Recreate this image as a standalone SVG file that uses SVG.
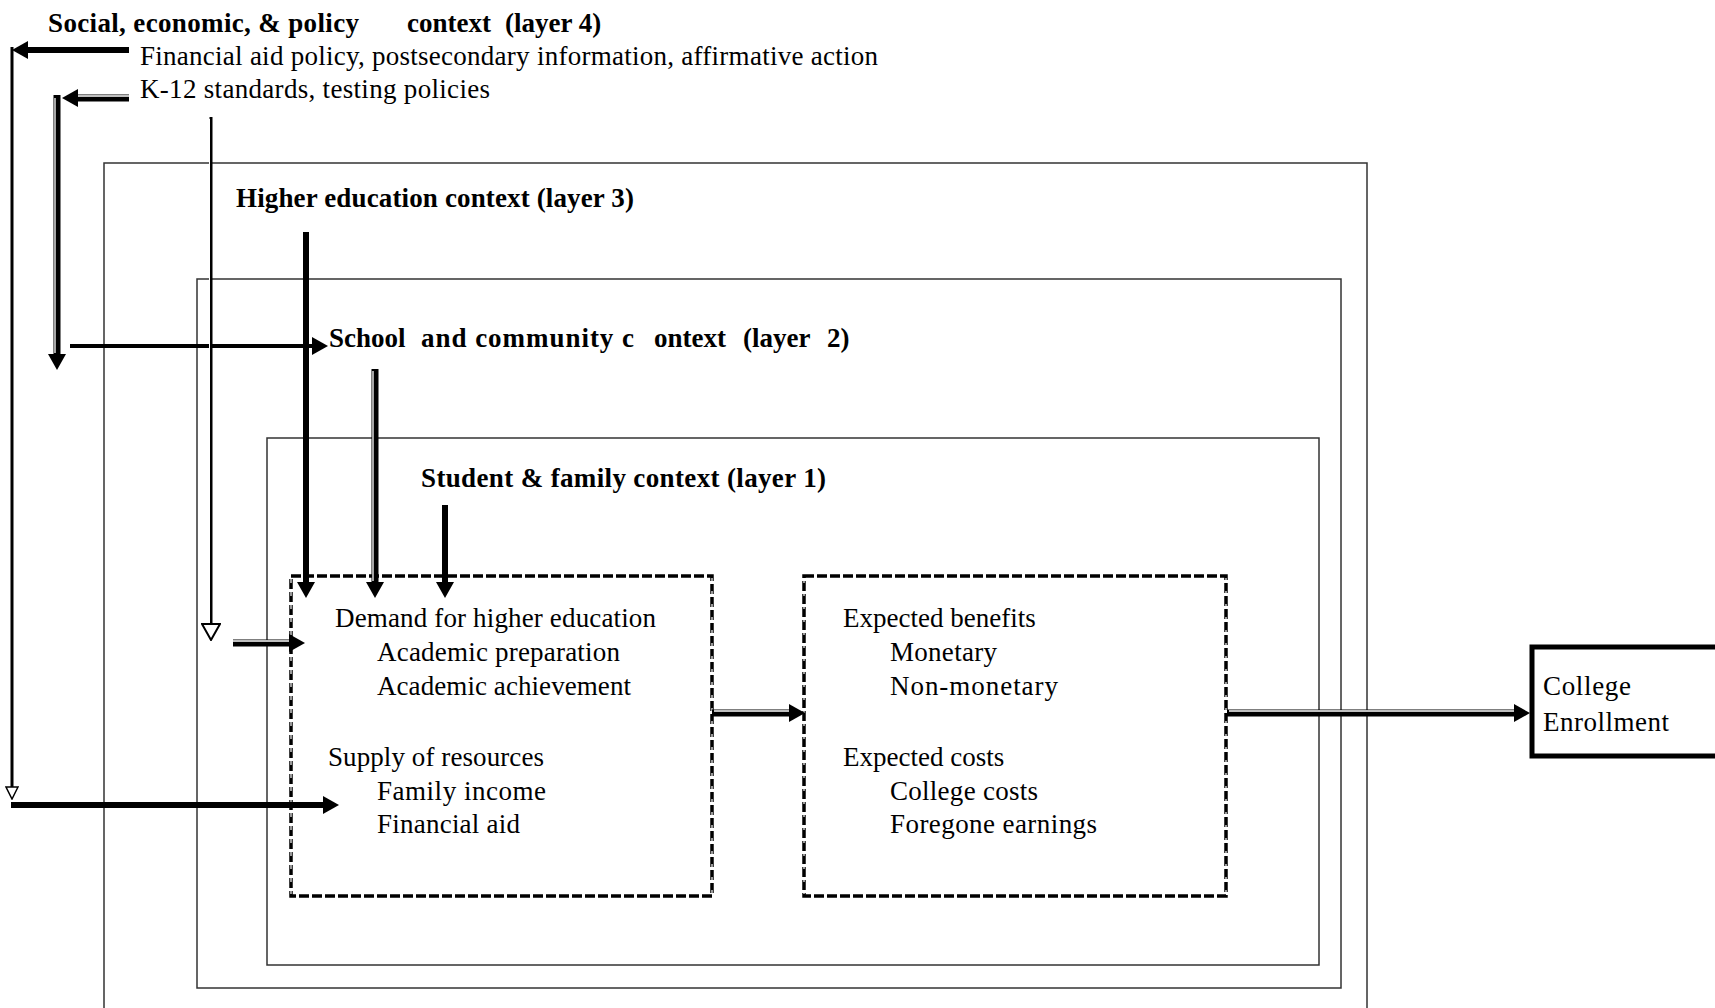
<svg xmlns="http://www.w3.org/2000/svg" width="1715" height="1008" viewBox="0 0 1715 1008">
<defs>
<style>
text{font-family:"Liberation Serif","Times New Roman",serif;font-size:27px;fill:#000}
.b{font-weight:bold}
.layer{fill:none;stroke:#333;stroke-width:1.5}
.dash{fill:none;stroke:#000;stroke-width:3.5;stroke-dasharray:10 3}
.dside{fill:none;stroke:#fff;stroke-width:1.2;stroke-dasharray:5 8}
.k{stroke:#000;fill:none}
.s3{stroke-width:3}
.s4{stroke-width:4}
.s6{stroke-width:6}
.dk{stroke:#000;stroke-width:7;fill:none}
.dw{stroke:#fff;stroke-width:1.3;fill:none}
.tk{stroke:#000;stroke-width:3;fill:none}
.tw{stroke:#fff;stroke-width:1;fill:none}
</style>
<marker id="ah" markerUnits="userSpaceOnUse" viewBox="0 0 16 18" markerWidth="16" markerHeight="18" refX="1" refY="9" orient="auto"><path d="M0,0 L16,9 L0,18 z" fill="#000"/></marker>
<marker id="aho" markerUnits="userSpaceOnUse" viewBox="-1 -1 18 20" markerWidth="18" markerHeight="20" refX="1" refY="9" orient="auto"><path d="M0,0 L16,9 L0,18 z" fill="#fff" stroke="#000" stroke-width="2"/></marker>
<marker id="ahs" markerUnits="userSpaceOnUse" viewBox="-1 -1 14 14" markerWidth="14" markerHeight="14" refX="1" refY="6" orient="auto"><path d="M0,0 L12,6 L0,12 z" fill="#fff" stroke="#000" stroke-width="1.5"/></marker>
</defs>
<rect width="1715" height="1008" fill="#fff"/>

<g id="layer4">
<text class="b" x="48" y="32" textLength="311">Social, economic, &amp; policy</text>
<text class="b" x="407" y="32">context</text>
<text class="b" x="505" y="32">(layer 4)</text>
<text x="140" y="65" textLength="738">Financial aid policy, postsecondary information, affirmative action</text>
<text x="140" y="98" textLength="350">K-12 standards, testing policies</text>
</g>

<g id="layer3">
<rect class="layer" x="104" y="163" width="1263" height="860"/>
<text class="b" x="236" y="207" textLength="398">Higher education context (layer 3)</text>
</g>

<g id="layer2">
<rect class="layer" x="197" y="279" width="1144" height="709"/>
<text class="b" y="347"><tspan x="329">School</tspan><tspan x="421" textLength="213">and community c</tspan><tspan x="654">ontext</tspan><tspan x="743">(layer</tspan><tspan x="827">2)</tspan></text>
</g>

<g id="layer1">
<rect class="layer" x="267" y="438" width="1052" height="527"/>
<text class="b" x="421" y="487" textLength="405">Student &amp; family context (layer 1)</text>
</g>

<g id="demand">
<rect class="dash" x="291" y="576" width="421" height="320"/>
<line class="dside" x1="291" y1="578" x2="291" y2="894"/>
<line class="dside" x1="712" y1="578" x2="712" y2="894"/>
<text x="335" y="627" textLength="321">Demand for higher education</text>
<text x="377" y="661" textLength="243">Academic preparation</text>
<text x="377" y="695" textLength="254">Academic achievement</text>
<text x="328" y="766" textLength="216">Supply of resources</text>
<text x="377" y="800" textLength="169">Family income</text>
<text x="377" y="833" textLength="143">Financial aid</text>
</g>

<g id="benefits">
<rect class="dash" x="804" y="576" width="422" height="320"/>
<line class="dside" x1="804" y1="578" x2="804" y2="894"/>
<line class="dside" x1="1226" y1="578" x2="1226" y2="894"/>
<text x="843" y="627">Expected benefits</text>
<text x="890" y="661" textLength="107">Monetary</text>
<text x="890" y="695" textLength="168">Non-monetary</text>
<text x="843" y="766">Expected costs</text>
<text x="890" y="800" textLength="148">College costs</text>
<text x="890" y="833" textLength="207">Foregone earnings</text>
</g>

<g id="enrollment">
<rect x="1532" y="647" width="220" height="109" fill="#fff" stroke="#000" stroke-width="5"/>
<text x="1543" y="695" textLength="88">College</text>
<text x="1543" y="731" textLength="126">Enrollment</text>
</g>

<g id="connectors">
<!-- financial aid policy route -->
<line class="k s6" x1="129" y1="50" x2="27" y2="50" marker-end="url(#ah)"/>
<line class="k s3" x1="12" y1="47" x2="12" y2="788" marker-end="url(#ahs)"/>
<line class="k s6" x1="11" y1="805" x2="324" y2="805" marker-end="url(#ah)"/>
<!-- K-12 route -->
<line class="dk" x1="129" y1="98" x2="77" y2="98" marker-end="url(#ah)"/>
<line class="dw" x1="129" y1="96" x2="78" y2="96"/>
<line class="dk" x1="57" y1="95" x2="57" y2="355" marker-end="url(#ah)"/>
<line class="dw" x1="55" y1="98" x2="55" y2="353"/>
<line class="k s4" x1="70" y1="346" x2="313" y2="346" marker-end="url(#ah)"/>
<!-- K-12 to demand -->
<line class="tk" x1="211" y1="117" x2="211" y2="625" marker-end="url(#aho)"/>
<line class="tw" x1="209.5" y1="119" x2="209.5" y2="623"/>
<line class="dk" x1="233" y1="643" x2="290" y2="643" marker-end="url(#ah)"/>
<line class="dw" x1="233" y1="641" x2="289" y2="641"/>
<!-- contexts down to demand -->
<line class="k s6" x1="306" y1="232" x2="306" y2="583" marker-end="url(#ah)"/>
<line class="dk" x1="375" y1="369" x2="375" y2="583" marker-end="url(#ah)"/>
<line class="dw" x1="373" y1="371" x2="373" y2="581"/>
<line class="k s6" x1="445" y1="505" x2="445" y2="583" marker-end="url(#ah)"/>
<!-- flow -->
<line class="dk" x1="712" y1="713" x2="790" y2="713" marker-end="url(#ah)"/>
<line class="dw" x1="714" y1="711" x2="789" y2="711"/>
<line class="dk" x1="1227" y1="713" x2="1515" y2="713" marker-end="url(#ah)"/>
<line class="dw" x1="1229" y1="711" x2="1514" y2="711"/>
</g>
</svg>
